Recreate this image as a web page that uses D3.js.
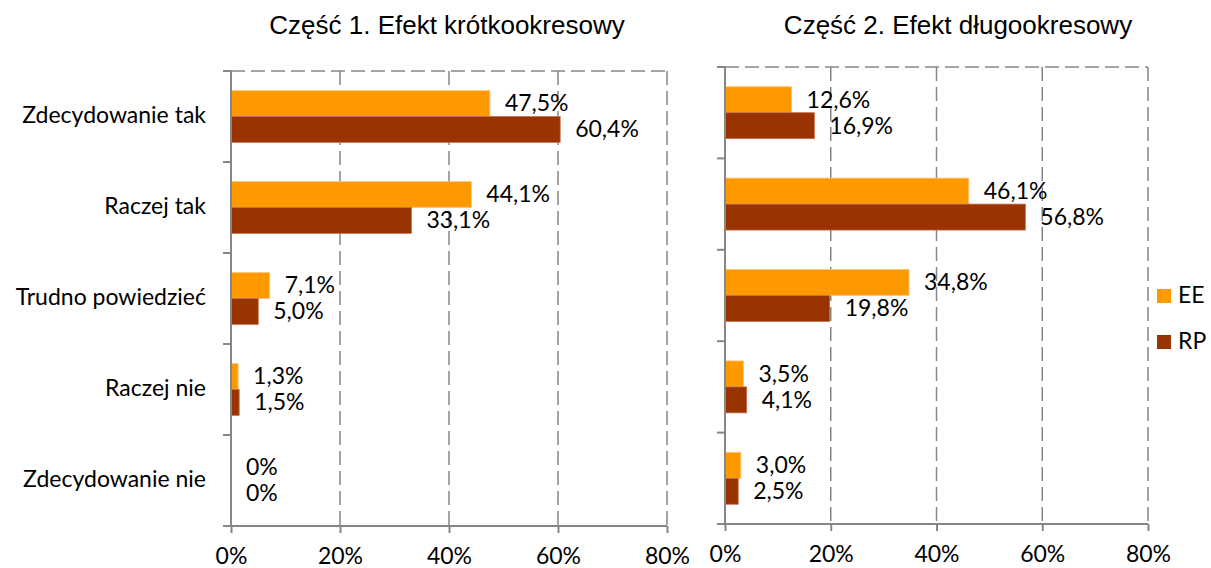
<!DOCTYPE html>
<html><head><meta charset="utf-8">
<script src="https://cdn.jsdelivr.net/npm/d3@7"></script>
<style>
body{margin:0;background:#fff;}
svg{display:block;}
</style></head>
<body>
<svg id="chart" width="1211" height="568"></svg>
<script>
const categories = ["Zdecydowanie tak","Raczej tak","Trudno powiedzieć","Raczej nie","Zdecydowanie nie"];
const seriesNames = ["EE","RP"];
const part1EE = [47.5,44.1,7.1,1.3,0];
const part1RP = [60.4,33.1,5.0,1.5,0];
const part2EE = [12.6,46.1,34.8,3.5,3.0];
const part2RP = [16.9,56.8,19.8,4.1,2.5];
const titles = ["Część 1. Efekt krótkookresowy","Część 2. Efekt długookresowy"];
const xTicks = [0,20,40,60,80];

const colors = {EE:"#FF9900", RP:"#993300"};
const strokes = {EE:"#FFC27A", RP:"#C2704D"};
const axisColor = "#868686";
const labelFont = "Lato, 'Open Sans', sans-serif";
const fs = 23;

const svg = d3.select("#chart");
const fmt = v => v === 0 ? "0%" : v.toFixed(1).replace(".", ",") + "%";

const panels = [
  {title: titles[0], EE: part1EE, RP: part1RP, x0: 231, x1: 667, top: 71, bottom: 526, titleX: 447, showCats: true},
  {title: titles[1], EE: part2EE, RP: part2RP, x0: 725, x1: 1148, top: 67, bottom: 524, titleX: 958, showCats: false}
];

panels.forEach(p => {
  const g = svg.append("g");
  const x = d3.scaleLinear().domain([0, 80]).range([p.x0, p.x1]);
  const y = d3.scaleBand().domain(categories).range([p.top, p.bottom]).paddingInner(0).paddingOuter(0);
  const inner = d3.scaleBand().domain(seriesNames).range([0, y.bandwidth()]).paddingOuter(0.76).paddingInner(0);

  g.selectAll("line.grid").data(xTicks.filter(t => t > 0)).join("line")
    .attr("x1", d => x(d)).attr("x2", d => x(d))
    .attr("y1", p.top).attr("y2", p.bottom)
    .attr("stroke", axisColor).attr("stroke-width", 1.5).attr("stroke-dasharray", "14,6");
  g.append("line").attr("x1", p.x0).attr("x2", p.x1).attr("y1", p.top).attr("y2", p.top)
    .attr("stroke", axisColor).attr("stroke-width", 1.5).attr("stroke-dasharray", "14,6");

  seriesNames.forEach(s => {
    g.selectAll("rect.b" + s).data(p[s]).join("rect")
      .attr("x", x(0))
      .attr("y", (d, i) => y(categories[i]) + inner(s))
      .attr("width", d => Math.max(0, x(d) - x(0)))
      .attr("height", inner.bandwidth())
      .attr("fill", colors[s])
      .attr("stroke", d => d > 0 ? strokes[s] : "none")
      .attr("stroke-width", 0.8);
    g.selectAll("text.l" + s).data(p[s]).join("text")
      .attr("x", d => x(d) + 15)
      .attr("y", (d, i) => y(categories[i]) + inner(s) + inner.bandwidth()/2 + 2)
      .attr("dominant-baseline", "middle")
      .attr("font-family", labelFont).attr("font-size", fs).attr("fill", "#000")
      .text(d => fmt(d));
  });

  g.append("line").attr("x1", p.x0).attr("x2", p.x0).attr("y1", p.top).attr("y2", p.bottom)
    .attr("stroke", axisColor).attr("stroke-width", 2);
  const bounds = categories.map(c => y(c)).concat([p.bottom]);
  g.selectAll("line.ytick").data(bounds).join("line")
    .attr("x1", p.x0 - 8).attr("x2", p.x0).attr("y1", d => d).attr("y2", d => d)
    .attr("stroke", axisColor).attr("stroke-width", 2);

  const ax = d3.axisBottom(x).tickValues(xTicks).tickSize(7).tickPadding(15).tickFormat(d => d + "%");
  const axG = g.append("g").attr("transform", `translate(0,${p.bottom})`).call(ax);
  axG.select(".domain").attr("stroke", axisColor).attr("stroke-width", 2).attr("d", `M${p.x0 - 8},0H${p.x1}`);
  axG.selectAll(".tick line").attr("stroke", axisColor).attr("stroke-width", 2);
  axG.selectAll(".tick text").attr("font-family", labelFont).attr("font-size", fs).attr("fill", "#000");

  if (p.showCats) {
    g.selectAll("text.cat").data(categories).join("text")
      .attr("x", 206).attr("y", d => y(d) + y.bandwidth()/2 + 1)
      .attr("text-anchor", "end").attr("dominant-baseline", "middle")
      .attr("font-family", labelFont).attr("font-size", fs).attr("fill", "#000")
      .text(d => d);
  }

  svg.append("text").attr("x", p.titleX).attr("y", 34).attr("text-anchor", "middle")
    .attr("font-family", "'Liberation Sans', Arial, sans-serif").attr("font-size", 26).attr("fill", "#000")
    .text(p.title);
});

const leg = svg.append("g");
seriesNames.forEach((s, i) => {
  leg.append("rect").attr("x", 1157).attr("y", 289 + i * 46).attr("width", 14).attr("height", 14).attr("fill", colors[s]);
  leg.append("text").attr("x", 1178).attr("y", 296 + i * 46 + 1).attr("dominant-baseline", "middle")
    .attr("font-family", labelFont).attr("font-size", fs).attr("fill", "#000").text(s);
});
</script>
</body></html>
